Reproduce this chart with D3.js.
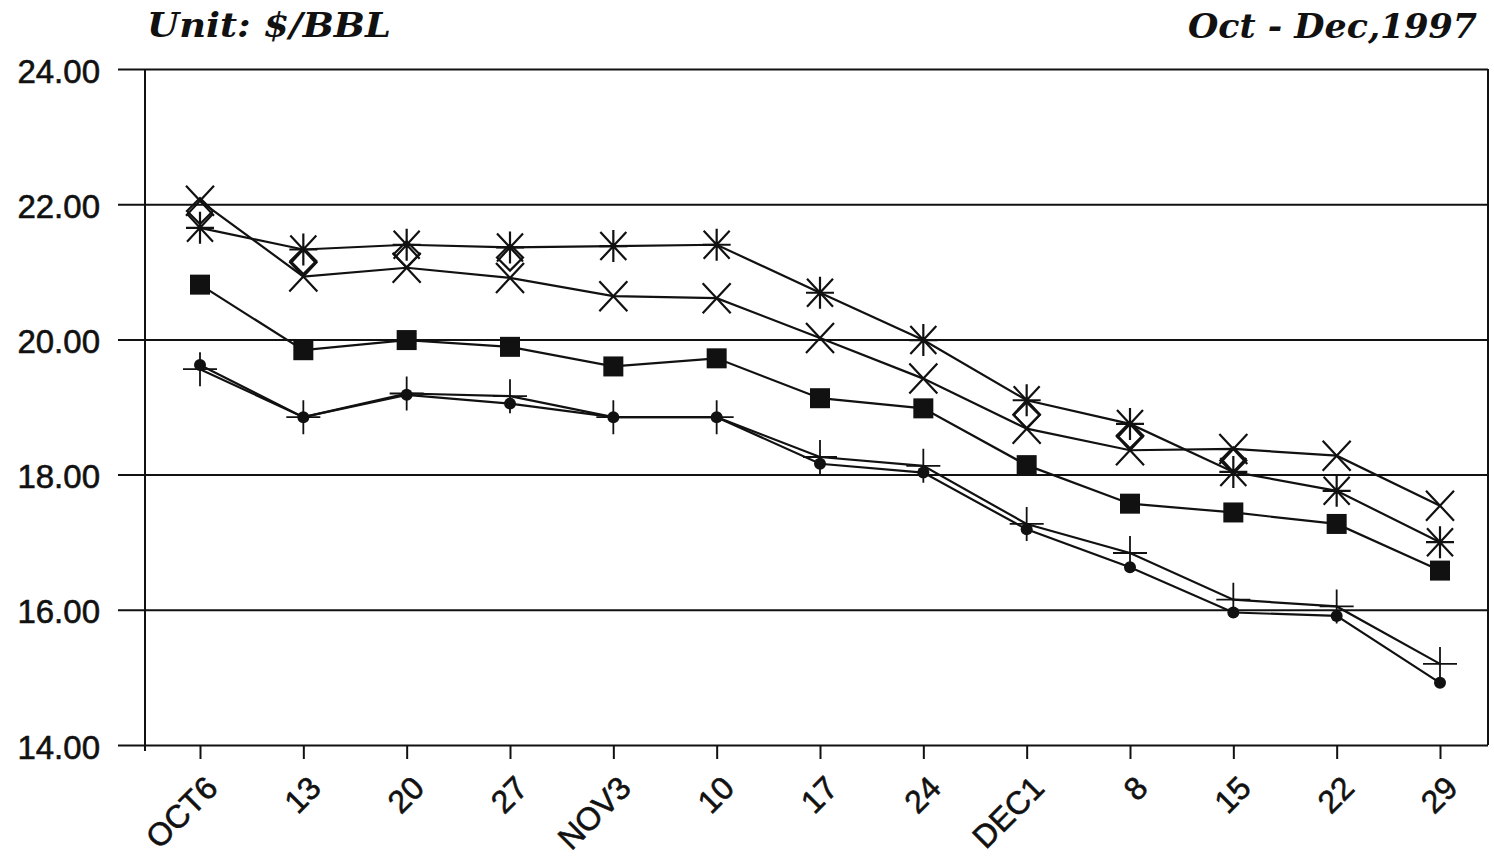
<!DOCTYPE html>
<html>
<head>
<meta charset="utf-8">
<script src="https://cdn.jsdelivr.net/npm/d3@7"></script>
<style>
  html, body { margin: 0; padding: 0; background: #fff; }
  svg { display: block; }
</style>
</head>
<body>
<script>
// ---- data ----
const categories = ["OCT6","13","20","27","NOV3","10","17","24","DEC1","8","15","22","29"];
const yTicks = [14, 16, 18, 20, 22, 24];
const titleLeft = "Unit: $/BBL";
const titleRight = "Oct - Dec,1997";

const crossSeries    = [22.05, 20.93, 21.06, 20.91, 20.64, 20.61, 20.02, 19.42, 18.68, 18.36, 18.38, 18.28, 17.54];
const asteriskSeries = [21.65, 21.33, 21.40, 21.36, 21.38, 21.40, 20.69, 19.99, 19.10, 18.75, 18.04, 17.76, 17.00];
const diamondSeries  = [21.90, 21.16, 21.26, 21.21, null, null, null, null, 18.88, 18.58, 18.21, null, null];
const squareSeries   = [20.81, 19.84, 19.99, 19.89, 19.60, 19.72, 19.13, 18.98, 18.14, 17.57, 17.44, 17.27, 16.58];
const plusSeries     = [19.56, 18.85, 19.20, 19.16, 18.85, 18.85, 18.26, 18.13, 17.27, 16.84, 16.15, 16.05, 15.20];
const dotSeries      = [19.62, 18.85, 19.18, 19.05, 18.85, 18.85, 18.16, 18.03, 17.19, 16.63, 15.96, 15.91, 14.92];

// ---- layout ----
const W = 1494, H = 860;
const plotLeft = 145, plotRight = 1488, plotTop = 69, plotBottom = 745;
const gridStart = 118;
const ink = "#111";

const svg = d3.select("body").append("svg").attr("width", W).attr("height", H);

const x = d3.scalePoint().domain(categories).range([200, 1440]);
const y = d3.scaleLinear().domain([14, 24]).range([plotBottom, plotTop]);

// titles
const titleFont = "'DejaVu Serif', 'Liberation Serif', serif";
svg.append("text").attr("x", 147).attr("y", 37)
  .attr("font-family", titleFont).attr("font-style", "italic").attr("font-weight", "bold")
  .attr("font-size", 34).attr("fill", ink)
  .attr("textLength", 244).attr("lengthAdjust", "spacingAndGlyphs")
  .text(titleLeft);
svg.append("text").attr("x", 1477).attr("y", 38).attr("text-anchor", "end")
  .attr("font-family", titleFont).attr("font-style", "italic").attr("font-weight", "bold")
  .attr("font-size", 34).attr("fill", ink)
  .attr("textLength", 289).attr("lengthAdjust", "spacingAndGlyphs")
  .text(titleRight);

// y axis with gridlines
const yAxis = d3.axisLeft(y).tickValues(yTicks).tickFormat(d3.format(".2f"))
  .tickSize(-(plotRight - gridStart)).tickPadding(18);
const gy = svg.append("g").attr("transform", `translate(${gridStart},0)`).call(yAxis);
gy.select(".domain").remove();
gy.selectAll(".tick line").attr("stroke", ink).attr("stroke-width", 2);
gy.selectAll(".tick text")
  .attr("font-family", "'Liberation Sans', Arial, Helvetica, sans-serif")
  .attr("font-size", 33).attr("fill", ink).attr("stroke", ink).attr("stroke-width", 0.6)
  .attr("dy", 13);

// frame verticals
svg.append("line").attr("x1", plotLeft).attr("x2", plotLeft).attr("y1", plotTop).attr("y2", plotBottom + 6)
  .attr("stroke", ink).attr("stroke-width", 2);
svg.append("line").attr("x1", plotRight).attr("x2", plotRight).attr("y1", plotTop).attr("y2", plotBottom)
  .attr("stroke", ink).attr("stroke-width", 2);

// x axis
const xAxis = d3.axisBottom(x).tickSize(14).tickSizeOuter(0);
const gx = svg.append("g").attr("transform", `translate(0,${plotBottom})`).call(xAxis);
gx.select(".domain").remove();
gx.selectAll(".tick line").attr("stroke", ink).attr("stroke-width", 2);
gx.selectAll(".tick text")
  .attr("x", 0).attr("y", 0).attr("dy", 0)
  .attr("transform", "translate(19,45) rotate(-45)")
  .attr("text-anchor", "end")
  .attr("font-family", "'Liberation Sans', Arial, Helvetica, sans-serif")
  .attr("font-size", 32).attr("fill", ink).attr("stroke", ink).attr("stroke-width", 0.6);

// series lines
const line = d3.line().defined(d => d.v != null).x(d => x(d.c)).y(d => y(d.v));
const toPts = arr => arr.map((v, i) => ({ c: categories[i], v }));
const lineSeries = [crossSeries, asteriskSeries, squareSeries, plusSeries, dotSeries];
const gl = svg.append("g");
lineSeries.forEach(s => {
  gl.append("path").datum(toPts(s)).attr("d", line)
    .attr("fill", "none").attr("stroke", ink).attr("stroke-width", 2.2);
});

// markers
const gm = svg.append("g").attr("stroke", ink).attr("stroke-width", 2.2);
function pts(arr) { return toPts(arr).filter(d => d.v != null); }

// cross (X)
gm.selectAll(".cross").data(pts(crossSeries)).join("path")
  .attr("transform", d => `translate(${x(d.c)},${y(d.v)})`)
  .attr("d", "M-14,-15L14,15M-14,15L14,-15").attr("fill", "none");

// asterisk
gm.selectAll(".ast").data(pts(asteriskSeries)).join("path")
  .attr("transform", d => `translate(${x(d.c)},${y(d.v)})`)
  .attr("d", "M-13,-14L13,14M-13,14L13,-14M0,-16L0,16M-14,0L14,0").attr("fill", "none");

// diamond
gm.selectAll(".dia").data(pts(diamondSeries)).join("path")
  .attr("transform", d => `translate(${x(d.c)},${y(d.v)})`)
  .attr("d", "M0,-13L13,0L0,13L-13,0Z").attr("fill", "none");

// square (filled)
gm.selectAll(".sq").data(pts(squareSeries)).join("rect")
  .attr("x", d => x(d.c) - 10).attr("y", d => y(d.v) - 10)
  .attr("width", 20).attr("height", 20).attr("fill", ink).attr("stroke", "none");

// plus
gm.selectAll(".plus").data(pts(plusSeries)).join("path")
  .attr("transform", d => `translate(${x(d.c)},${y(d.v)})`)
  .attr("d", "M-17,0L17,0M0,-17L0,17").attr("fill", "none").attr("stroke-width", 1.8);

// dot
gm.selectAll(".dot").data(pts(dotSeries)).join("circle")
  .attr("cx", d => x(d.c)).attr("cy", d => y(d.v)).attr("r", 6)
  .attr("fill", ink).attr("stroke", "none");
</script>
</body>
</html>
